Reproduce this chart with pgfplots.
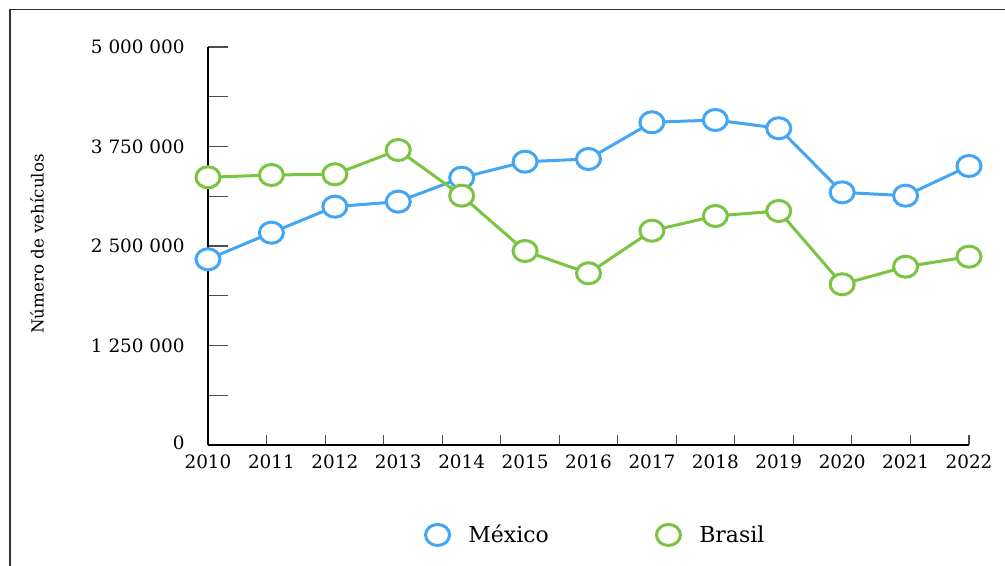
\documentclass[border=0pt]{standalone}
\usepackage{fontspec}
\setmainfont{DejaVu Serif}
\usepackage{pgfplots}
\pgfplotsset{compat=1.18}
\definecolor{mxblue}{RGB}{66,165,245}
\definecolor{brgreen}{RGB}{122,196,66}
\definecolor{framegray}{RGB}{51,51,51}

\begin{document}
\begin{tikzpicture}[x=1pt,y=1pt]
\path[use as bounding box] (-156,-90.75) rectangle (597.75,333.75);
\draw[framegray, line width=1.1pt] (-148.5,-100) -- (-148.5,326.8) -- (610,326.8);
\begin{axis}[
  at={(0,0)}, anchor=south west,
  scale only axis, width=570.75pt, height=298.5pt,
  xmin=0, xmax=12, ymin=0, ymax=5000000,
  axis x line=bottom, axis y line=left,
  axis line style={-, line width=1pt, black},
  clip=false,
  tick align=inside,
  xtick={0,1,2,3,4,5,6,7,8,9,10,11,12},
  xticklabels={2010,2011,2012,2013,2014,2015,2016,2017,2018,2019,2020,2021,2022},
  major x tick style={draw=none},
  minor xtick={0,0.923077,1.846154,2.769231,3.692308,4.615385,5.538462,6.461538,7.384615,8.307692,9.230769,10.153846,11.076923,12},
  minor x tick style={/pgfplots/minor tick length=7.5pt, line width=0.8pt, black!70},
  ytick={0,1250000,2500000,3750000,5000000},
  yticklabels={\raisebox{3.75pt}{0},\raisebox{-1.2pt}{1 250 000},\raisebox{-1.3pt}{2 500 000},\raisebox{-4.3pt}{3 750 000},\raisebox{-4.3pt}{5 000 000}},
  minor ytick={625000,1875000,3125000,4375000},
  major tick length=15pt, minor tick length=15pt,
  major y tick style={line width=0.8pt, black!70},
  minor y tick style={line width=0.8pt, black!70},
  scaled y ticks=false,
  yticklabel style={font=\fontsize{13.8}{16}\selectfont, anchor=east, xshift=-14pt},
  xticklabel style={font=\fontsize{13.8}{16}\selectfont, anchor=north, yshift=-4pt},
  ylabel={Número de vehículos},
  ylabel style={font=\fontsize{12.5}{15}\selectfont, at={(axis description cs:-0.2247,0.505)}, anchor=center, rotate=0},
  legend columns=2,
  legend style={draw=none, fill=none, inner sep=0pt,
    at={(axis description cs:0.508,-0.226)}, anchor=center,
    font=\fontsize{16.5}{19}\selectfont,
    /tikz/every even column/.append style={column sep=76pt}},
  legend image code/.code={\path (-10.5pt,0pt) (20pt,0pt); \draw[#1, only marks] plot coordinates {(0pt,0pt)};},
]
\addplot[mxblue, line width=2.25pt, mark=*, mark size=7.9pt, mark options={fill=white, xscale=1.14}] coordinates {
(0,2333000) (1,2667000) (2,2994000) (3,3057000) (4,3358000) (5,3559000) (6,3593000)
(7,4054000) (8,4083000) (9,3979000) (10,3174000) (11,3132000) (12,3505000)};
\addlegendentry{México}
\addplot[brgreen, line width=2.25pt, mark=*, mark size=7.9pt, mark options={fill=white, xscale=1.14}] coordinates {
(0,3363000) (1,3392000) (2,3401000) (3,3706000) (4,3132000) (5,2437000) (6,2157000)
(7,2692000) (8,2877000) (9,2940000) (10,2019000) (11,2240000) (12,2366000)};
\addlegendentry{Brasil}
\end{axis}
\end{tikzpicture}
\end{document}
